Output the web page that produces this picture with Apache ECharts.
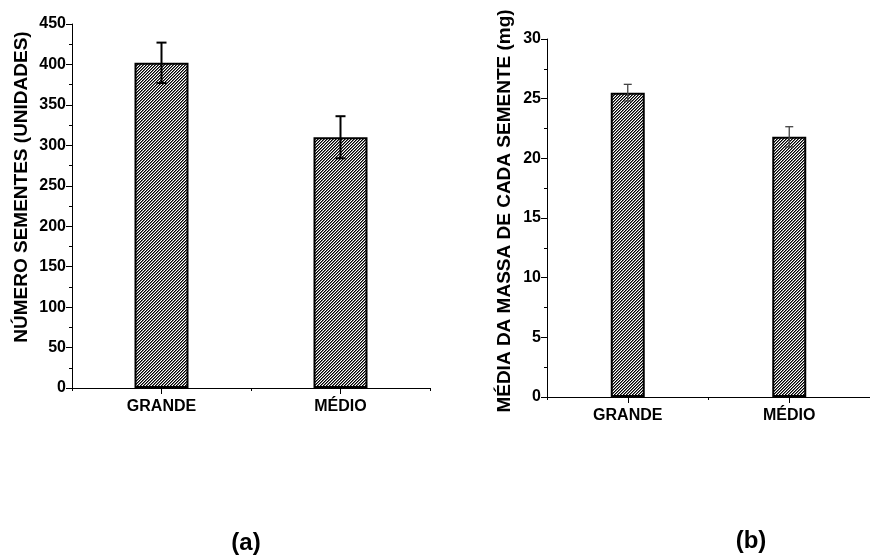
<!DOCTYPE html>
<html>
<head>
<meta charset="utf-8">
<script src="https://cdn.jsdelivr.net/npm/echarts@6/dist/echarts.min.js"></script>
<style>html,body{margin:0;padding:0;background:#fff;}#c{width:870px;height:558px;}</style>
</head>
<body>
<div id="c"></div>
<script>
// ---- data ----
var categories = ['GRANDE', 'MÉDIO'];
var seedCount = [402, 310];          // (a) número de sementes
var seedCountErr = [25, 26];
var seedMass = [25.5, 21.8];         // (b) média da massa (mg)
var seedMassErr = [0.7, 0.85];
var yTicksA = [0, 50, 100, 150, 200, 250, 300, 350, 400, 450];
var yTicksB = [0, 5, 10, 15, 20, 25, 30];
var titleA = 'NÚMERO SEMENTES (UNIDADES)';
var titleB = 'MÉDIA DA MASSA DE CADA SEMENTE (mg)';

// ---- hatch pattern ----
function hatch(){
  var c = document.createElement('canvas');
  c.width = 3; c.height = 3;
  var ctx = c.getContext('2d');
  var img = ctx.createImageData(3,3);
  for (var y=0;y<3;y++) for (var x=0;x<3;x++){
    var k=(x+y)%3, v = k===0?0:(k===1?110:255);
    var i=(y*3+x)*4; img.data[i]=v;img.data[i+1]=v;img.data[i+2]=v;img.data[i+3]=255;
  }
  ctx.putImageData(img,0,0);
  return c;
}
var pat = hatch();

var font = '"Liberation Sans", Arial, sans-serif';
function errData(vals, errs){
  return vals.map(function(v,i){ return [i, v-errs[i], v+errs[i]]; });
}
function errSeries(xi, yi, data, color, width, cap){
  return {
    type:'custom', xAxisIndex:xi, yAxisIndex:yi, data:data, z:5,
    renderItem:function(params, api){
      var lo = api.coord([api.value(0), api.value(1)]);
      var hi = api.coord([api.value(0), api.value(2)]);
      var st = {stroke:color, lineWidth:width};
      return {type:'group', children:[
        {type:'line', shape:{x1:lo[0],y1:lo[1],x2:hi[0],y2:hi[1]}, style:st},
        {type:'line', shape:{x1:lo[0]-cap,y1:lo[1],x2:lo[0]+cap,y2:lo[1]}, style:st},
        {type:'line', shape:{x1:hi[0]-cap,y1:hi[1],x2:hi[0]+cap,y2:hi[1]}, style:st}
      ]};
    }
  };
}
function yAxis(gi, max, interval){
  return {
    type:'value', gridIndex:gi, min:0, max:max, interval:interval,
    axisLine:{show:true, lineStyle:{color:'#000', width:1}},
    axisTick:{show:true, inside:false, length:6, lineStyle:{color:'#000'}},
    minorTick:{show:true, splitNumber:2, length:3, lineStyle:{color:'#000'}},
    splitLine:{show:false},
    axisLabel:{color:'#000', fontFamily:font, fontWeight:'bold', fontSize:16, margin:6}
  };
}
function xAxisMain(gi){
  return {
    type:'category', gridIndex:gi, data:categories,
    axisLine:{show:true, lineStyle:{color:'#000', width:1}},
    axisTick:{show:true, alignWithLabel:true, length:6, lineStyle:{color:'#000'}},
    axisLabel:{color:'#000', fontFamily:font, fontWeight:'bold', fontSize:16, margin:11}
  };
}
function xAxisBound(gi){
  return {
    type:'category', gridIndex:gi, data:categories, position:'bottom',
    axisLine:{show:false},
    axisTick:{show:true, alignWithLabel:false, length:3, lineStyle:{color:'#000'}, interval:0},
    axisLabel:{show:false}
  };
}

var chart = echarts.init(document.getElementById('c'), null, {renderer:'canvas'});
chart.setOption({
  animation:false,
  backgroundColor:'#fff',
  grid:[
    {left:72, top:24, width:358, height:364},
    {left:547, top:39, width:328, height:358}
  ],
  xAxis:[xAxisMain(0), xAxisMain(1), xAxisBound(0), xAxisBound(1)],
  yAxis:[yAxis(0, 450, 50), yAxis(1, 30, 5)],
  series:[
    {type:'bar', xAxisIndex:0, yAxisIndex:0, data:seedCount, barWidth:54,
     itemStyle:{color:{image:pat, repeat:'repeat'}, borderColor:'#000', borderWidth:2}},
    {type:'bar', xAxisIndex:1, yAxisIndex:1, data:seedMass, barWidth:34,
     itemStyle:{color:{image:pat, repeat:'repeat'}, borderColor:'#000', borderWidth:2}},
    errSeries(0, 0, errData(seedCount, seedCountErr), '#000', 2, 5),
    errSeries(1, 1, errData(seedMass, seedMassErr), '#444', 1.3, 4)
  ],
  graphic:[
    {type:'text', x:22, y:187, rotation:Math.PI/2,
     style:{text:titleA, font:'bold 19px '+font, fill:'#000', textAlign:'center', textVerticalAlign:'middle'}},
    {type:'text', x:505, y:211, rotation:Math.PI/2,
     style:{text:titleB, font:'bold 19px '+font, fill:'#000', textAlign:'center', textVerticalAlign:'middle'}},
    {type:'text', x:246, y:543,
     style:{text:'(a)', font:'bold 24px '+font, fill:'#000', textAlign:'center', textVerticalAlign:'middle'}},
    {type:'text', x:751, y:541,
     style:{text:'(b)', font:'bold 24px '+font, fill:'#000', textAlign:'center', textVerticalAlign:'middle'}}
  ]
});
</script>
</body>
</html>
